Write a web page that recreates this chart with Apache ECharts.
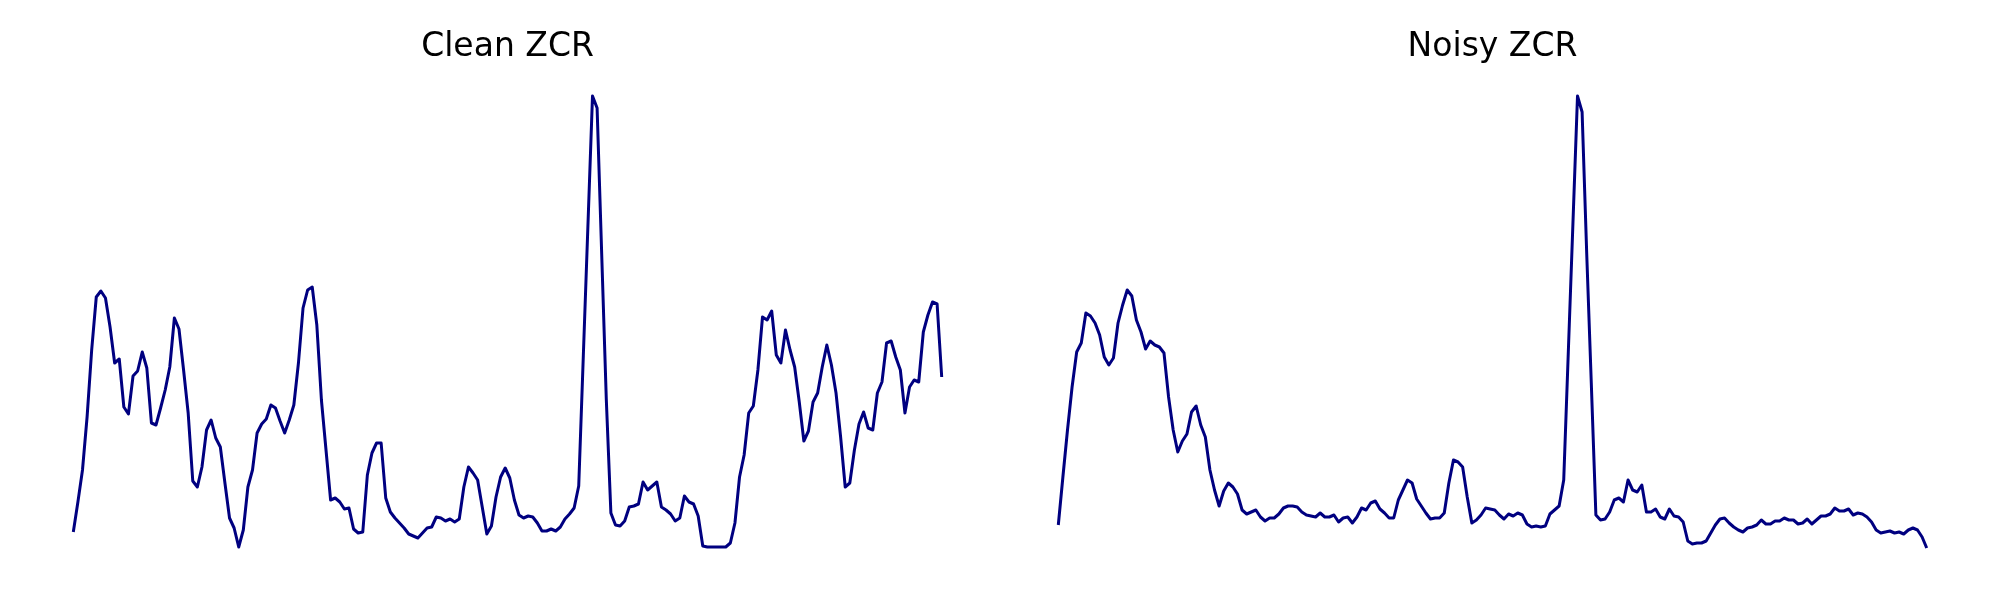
<!DOCTYPE html>
<html>
<head>
<meta charset="utf-8">
<title>ZCR</title>
<script src="https://cdn.jsdelivr.net/npm/echarts@6/dist/echarts.min.js"></script>
<style>
html, body { margin: 0; padding: 0; background: #fff; }
#main { width: 2000px; height: 600px; }
</style>
</head>
<body>
<div id="main"></div>
<script>
// zero crossing rate per frame
var cleanZcr = [
	0.038, 0.068, 0.100, 0.153, 0.220, 0.273, 0.279, 0.272, 0.243, 0.207,
	0.211, 0.163, 0.156, 0.194, 0.199, 0.218, 0.202, 0.147, 0.145, 0.162,
	0.180, 0.203, 0.252, 0.241, 0.200, 0.157, 0.089, 0.083, 0.103, 0.140,
	0.150, 0.132, 0.123, 0.087, 0.052, 0.042, 0.023, 0.040, 0.083, 0.100,
	0.137, 0.146, 0.151, 0.165, 0.162, 0.149, 0.137, 0.150, 0.165, 0.207,
	0.262, 0.280, 0.283, 0.245, 0.170, 0.120, 0.070, 0.072, 0.068, 0.061,
	0.062, 0.041, 0.037, 0.038, 0.095, 0.117, 0.127, 0.127, 0.072, 0.058,
	0.052, 0.047, 0.042, 0.036, 0.034, 0.032, 0.037, 0.042, 0.043, 0.053,
	0.052, 0.049, 0.051, 0.048, 0.051, 0.083, 0.103, 0.097, 0.090, 0.063,
	0.036, 0.044, 0.073, 0.093, 0.102, 0.092, 0.070, 0.055, 0.052, 0.054,
	0.053, 0.047, 0.039, 0.039, 0.041, 0.039, 0.043, 0.051, 0.056, 0.062,
	0.084, 0.214, 0.344, 0.474, 0.462, 0.316, 0.171, 0.057, 0.045, 0.044,
	0.049, 0.063, 0.064, 0.066, 0.088, 0.080, 0.084, 0.088, 0.063, 0.060,
	0.056, 0.049, 0.052, 0.074, 0.068, 0.066, 0.054, 0.024, 0.023, 0.023,
	0.023, 0.023, 0.023, 0.027, 0.047, 0.093, 0.115, 0.157, 0.164, 0.200,
	0.253, 0.250, 0.259, 0.215, 0.207, 0.240, 0.220, 0.203, 0.168, 0.129,
	0.139, 0.168, 0.177, 0.203, 0.225, 0.205, 0.177, 0.133, 0.083, 0.087,
	0.120, 0.146, 0.158, 0.142, 0.140, 0.177, 0.188, 0.227, 0.229, 0.213,
	0.200, 0.157, 0.183, 0.190, 0.188, 0.238, 0.255, 0.268, 0.266, 0.193
];
var noisyZcr = [
	0.045, 0.093, 0.140, 0.183, 0.218, 0.227, 0.257, 0.254, 0.247, 0.235,
	0.213, 0.205, 0.212, 0.247, 0.265, 0.280, 0.274, 0.250, 0.238, 0.221,
	0.229, 0.225, 0.223, 0.217, 0.173, 0.140, 0.118, 0.129, 0.136, 0.158,
	0.164, 0.145, 0.133, 0.100, 0.080, 0.064, 0.079, 0.087, 0.083, 0.076,
	0.060, 0.056, 0.058, 0.060, 0.053, 0.049, 0.052, 0.052, 0.056, 0.062,
	0.064, 0.064, 0.063, 0.058, 0.055, 0.054, 0.053, 0.057, 0.053, 0.053,
	0.055, 0.048, 0.052, 0.053, 0.047, 0.053, 0.062, 0.060, 0.067, 0.069,
	0.061, 0.057, 0.052, 0.052, 0.070, 0.080, 0.090, 0.087, 0.071, 0.064,
	0.057, 0.051, 0.052, 0.052, 0.057, 0.087, 0.110, 0.108, 0.103, 0.073,
	0.047, 0.050, 0.055, 0.062, 0.061, 0.060, 0.055, 0.051, 0.056, 0.054,
	0.057, 0.055, 0.046, 0.043, 0.044, 0.043, 0.044, 0.056, 0.060, 0.064,
	0.090, 0.218, 0.346, 0.474, 0.458, 0.317, 0.187, 0.055, 0.050, 0.051,
	0.058, 0.070, 0.072, 0.068, 0.090, 0.080, 0.078, 0.085, 0.058, 0.058,
	0.061, 0.053, 0.051, 0.061, 0.054, 0.053, 0.048, 0.029, 0.026, 0.027,
	0.027, 0.029, 0.037, 0.045, 0.051, 0.052, 0.047, 0.043, 0.040, 0.038,
	0.042, 0.043, 0.045, 0.050, 0.046, 0.046, 0.049, 0.049, 0.052, 0.050,
	0.050, 0.046, 0.047, 0.051, 0.046, 0.050, 0.054, 0.054, 0.056, 0.062,
	0.059, 0.059, 0.061, 0.055, 0.057, 0.056, 0.053, 0.048, 0.040, 0.037,
	0.038, 0.039, 0.037, 0.038, 0.036, 0.040, 0.042, 0.040, 0.033, 0.022
];
var titles = ['Clean ZCR', 'Noisy ZCR'];
var frames = cleanZcr.map(function(v, i) { return i; });

var lineColor = '#000080';
var panelLeft = [73.3, 1058.3];
var panelWidth = 868.4;

var myChart = echarts.init(document.getElementById('main'));
var option = {
	animation: false,
	backgroundColor: '#ffffff',
	title: [{
		text: titles[0],
		left: panelLeft[0] + panelWidth / 2,
		top: 30.5,
		padding: 0,
		textAlign: 'center',
		textStyle: { fontFamily: 'DejaVu Sans', fontSize: 33, fontWeight: 'normal', color: '#000' }
	}, {
		text: titles[1],
		left: panelLeft[1] + panelWidth / 2,
		top: 30.5,
		padding: 0,
		textAlign: 'center',
		textStyle: { fontFamily: 'DejaVu Sans', fontSize: 33, fontWeight: 'normal', color: '#000' }
	}],
	grid: [
		{ left: panelLeft[0], width: panelWidth, top: 0, height: 570 },
		{ left: panelLeft[1], width: panelWidth, top: 0, height: 570 }
	],
	xAxis: [
		{ gridIndex: 0, type: 'category', boundaryGap: false, data: frames, show: false },
		{ gridIndex: 1, type: 'category', boundaryGap: false, data: frames, show: false }
	],
	yAxis: [
		{ gridIndex: 0, type: 'value', min: 0, max: 0.57, show: false },
		{ gridIndex: 1, type: 'value', min: 0, max: 0.57, show: false }
	],
	series: [{
		name: titles[0],
		type: 'line',
		xAxisIndex: 0,
		yAxisIndex: 0,
		showSymbol: false,
		lineStyle: { color: lineColor, width: 3, join: 'round' },
		data: cleanZcr
	}, {
		name: titles[1],
		type: 'line',
		xAxisIndex: 1,
		yAxisIndex: 1,
		showSymbol: false,
		lineStyle: { color: lineColor, width: 3, join: 'round' },
		data: noisyZcr
	}]
};
myChart.setOption(option);
</script>
</body>
</html>
